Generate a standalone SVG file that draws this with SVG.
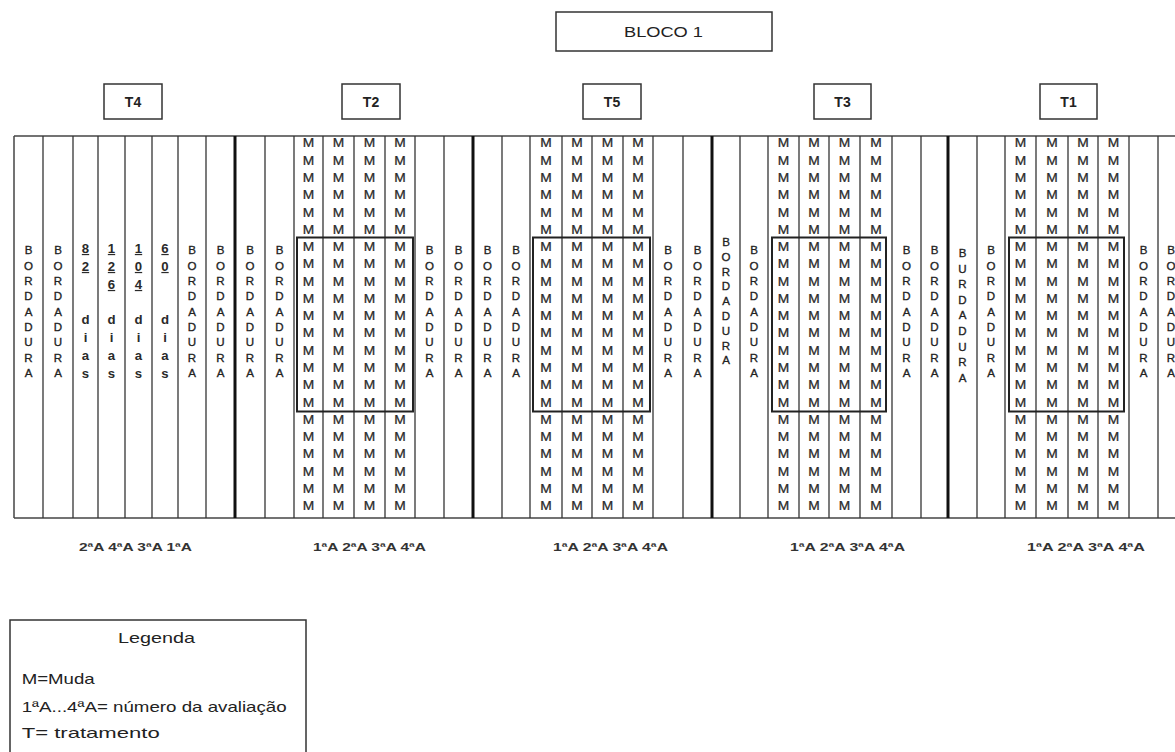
<svg xmlns="http://www.w3.org/2000/svg" width="1175" height="752" viewBox="0 0 1175 752">
<style>
.ln{stroke:#333;stroke-width:1.3}
.tk{stroke:#111;stroke-width:3}
.fr{stroke:#444;stroke-width:1.5}
.bx{fill:none;stroke:#333;stroke-width:1.5}
.ib{fill:none;stroke:#222;stroke-width:2}
.m{font-family:"Liberation Sans",Arial,sans-serif;font-size:12px;fill:#2a2a2a;stroke:#2a2a2a;stroke-width:0.25;text-anchor:middle}
.b{font-family:"Liberation Sans",Arial,sans-serif;font-size:10.5px;fill:#222;stroke:#222;stroke-width:0.3;text-anchor:middle}
.dg{font-family:"Liberation Sans",Arial,sans-serif;font-size:12px;font-weight:bold;fill:#2a2a2a;text-anchor:middle;text-decoration:underline}
.dl{font-family:"Liberation Sans",Arial,sans-serif;font-size:12px;font-weight:bold;fill:#2a2a2a;text-anchor:middle}
.ev{font-family:"Liberation Sans",Arial,sans-serif;font-size:10.5px;font-weight:bold;fill:#333}
.tt{font-family:"Liberation Sans",Arial,sans-serif;font-size:14px;font-weight:bold;fill:#222;text-anchor:middle}
.bl{font-family:"Liberation Sans",Arial,sans-serif;font-size:15px;fill:#222}
.lg{font-family:"Liberation Sans",Arial,sans-serif;font-size:15px;fill:#222}
</style>
<defs>
<g id="mc" transform="scale(1.15,1)">
<text class="m" x="0" y="147.5">M</text><text class="m" x="0" y="164.8">M</text><text class="m" x="0" y="182">M</text><text class="m" x="0" y="199.3">M</text><text class="m" x="0" y="216.6">M</text><text class="m" x="0" y="233.9">M</text><text class="m" x="0" y="251.1">M</text><text class="m" x="0" y="268.4">M</text><text class="m" x="0" y="285.7">M</text><text class="m" x="0" y="302.9">M</text><text class="m" x="0" y="320.2">M</text><text class="m" x="0" y="337.5">M</text><text class="m" x="0" y="354.7">M</text><text class="m" x="0" y="372">M</text><text class="m" x="0" y="389.3">M</text><text class="m" x="0" y="406.6">M</text><text class="m" x="0" y="423.8">M</text><text class="m" x="0" y="441.1">M</text><text class="m" x="0" y="458.4">M</text><text class="m" x="0" y="475.6">M</text><text class="m" x="0" y="492.9">M</text><text class="m" x="0" y="510.2">M</text>
</g>
<g id="bd" transform="scale(1.1,1)">
<text class="b" x="0" y="254.5">B</text><text class="b" x="0" y="269.8">O</text><text class="b" x="0" y="285.1">R</text><text class="b" x="0" y="300.4">D</text><text class="b" x="0" y="315.7">A</text><text class="b" x="0" y="331">D</text><text class="b" x="0" y="346.3">U</text><text class="b" x="0" y="361.6">R</text><text class="b" x="0" y="376.9">A</text>
</g>
</defs>
<rect width="1175" height="752" fill="#fff"/>

<g id="bloco">
<rect class="bx" x="556" y="12" width="216" height="39"/>
<text class="bl" x="624" y="36.5" textLength="79" lengthAdjust="spacingAndGlyphs">BLOCO 1</text>
</g>

<g id="connectors">
<line class="fr" x1="14" y1="136" x2="1175" y2="136"/>
<line class="fr" x1="14" y1="518" x2="1175" y2="518"/>
<line class="fr" x1="14" y1="136" x2="14" y2="518"/>
<g class="ln">
<line x1="43" y1="136" x2="43" y2="518"/><line x1="73" y1="136" x2="73" y2="518"/><line x1="98" y1="136" x2="98" y2="518"/><line x1="125" y1="136" x2="125" y2="518"/><line x1="152" y1="136" x2="152" y2="518"/><line x1="178" y1="136" x2="178" y2="518"/><line x1="206" y1="136" x2="206" y2="518"/>
<line x1="265" y1="136" x2="265" y2="518"/><line x1="294" y1="136" x2="294" y2="518"/><line x1="323" y1="136" x2="323" y2="518"/><line x1="354" y1="136" x2="354" y2="518"/><line x1="385" y1="136" x2="385" y2="518"/><line x1="415" y1="136" x2="415" y2="518"/><line x1="444" y1="136" x2="444" y2="518"/>
<line x1="502" y1="136" x2="502" y2="518"/><line x1="530" y1="136" x2="530" y2="518"/><line x1="562" y1="136" x2="562" y2="518"/><line x1="592" y1="136" x2="592" y2="518"/><line x1="623" y1="136" x2="623" y2="518"/><line x1="653" y1="136" x2="653" y2="518"/><line x1="683" y1="136" x2="683" y2="518"/>
<line x1="740" y1="136" x2="740" y2="518"/><line x1="768" y1="136" x2="768" y2="518"/><line x1="799" y1="136" x2="799" y2="518"/><line x1="829" y1="136" x2="829" y2="518"/><line x1="860" y1="136" x2="860" y2="518"/><line x1="892" y1="136" x2="892" y2="518"/><line x1="921" y1="136" x2="921" y2="518"/>
<line x1="977" y1="136" x2="977" y2="518"/><line x1="1005" y1="136" x2="1005" y2="518"/><line x1="1036" y1="136" x2="1036" y2="518"/><line x1="1068" y1="136" x2="1068" y2="518"/><line x1="1098" y1="136" x2="1098" y2="518"/><line x1="1129" y1="136" x2="1129" y2="518"/><line x1="1158" y1="136" x2="1158" y2="518"/>
</g>
<g class="tk">
<line x1="235" y1="136" x2="235" y2="518"/><line x1="473" y1="136" x2="473" y2="518"/><line x1="712" y1="136" x2="712" y2="518"/><line x1="948" y1="136" x2="948" y2="518"/>
</g>
</g>

<g id="T4">
<rect class="bx" x="104" y="84" width="58" height="35"/>
<text class="tt" x="133" y="106.5">T4</text>
<use href="#bd" x="28.5"/><use href="#bd" x="58"/>
<g transform="translate(85.5,0) scale(1.1,1)"><text class="dg" x="0" y="253">8</text><text class="dg" x="0" y="271">2</text><text class="dl" x="0" y="324">d</text><text class="dl" x="0" y="342">i</text><text class="dl" x="0" y="360">a</text><text class="dl" x="0" y="378">s</text></g>
<g transform="translate(111.5,0) scale(1.1,1)"><text class="dg" x="0" y="253">1</text><text class="dg" x="0" y="271">2</text><text class="dg" x="0" y="289">6</text><text class="dl" x="0" y="324">d</text><text class="dl" x="0" y="342">i</text><text class="dl" x="0" y="360">a</text><text class="dl" x="0" y="378">s</text></g>
<g transform="translate(138.5,0) scale(1.1,1)"><text class="dg" x="0" y="253">1</text><text class="dg" x="0" y="271">0</text><text class="dg" x="0" y="289">4</text><text class="dl" x="0" y="324">d</text><text class="dl" x="0" y="342">i</text><text class="dl" x="0" y="360">a</text><text class="dl" x="0" y="378">s</text></g>
<g transform="translate(165,0) scale(1.1,1)"><text class="dg" x="0" y="253">6</text><text class="dg" x="0" y="271">0</text><text class="dl" x="0" y="324">d</text><text class="dl" x="0" y="342">i</text><text class="dl" x="0" y="360">a</text><text class="dl" x="0" y="378">s</text></g>
<use href="#bd" x="192"/><use href="#bd" x="220.5"/>
<text class="ev" x="79" y="550.5" textLength="113" lengthAdjust="spacingAndGlyphs">2ªA 4ªA 3ªA 1ªA</text>
</g>

<g id="T2">
<rect class="bx" x="342" y="84" width="58" height="35"/>
<text class="tt" x="371" y="106.5">T2</text>
<use href="#bd" x="250"/><use href="#bd" x="279.5"/>
<use href="#mc" x="308.5"/><use href="#mc" x="338.5"/><use href="#mc" x="369.5"/><use href="#mc" x="400"/>
<rect class="ib" x="297" y="237.5" width="116" height="174"/>
<use href="#bd" x="429.5"/><use href="#bd" x="458.5"/>
<text class="ev" x="313" y="550.5" textLength="113" lengthAdjust="spacingAndGlyphs">1ªA 2ªA 3ªA 4ªA</text>
</g>

<g id="T5">
<rect class="bx" x="583" y="84" width="58" height="35"/>
<text class="tt" x="612" y="106.5">T5</text>
<use href="#bd" x="487.5"/><use href="#bd" x="516"/>
<use href="#mc" x="546"/><use href="#mc" x="577"/><use href="#mc" x="607.5"/><use href="#mc" x="638"/>
<rect class="ib" x="533" y="237.5" width="117" height="174"/>
<use href="#bd" x="668"/><use href="#bd" x="697.5"/>
<text class="ev" x="553" y="550.5" textLength="115" lengthAdjust="spacingAndGlyphs">1ªA 2ªA 3ªA 4ªA</text>
</g>

<g id="T3">
<rect class="bx" x="814" y="84" width="57" height="35"/>
<text class="tt" x="842.5" y="106.5">T3</text>
<g transform="translate(726,0) scale(1.1,1)"><text class="b" x="0" y="246">B</text><text class="b" x="0" y="260.8">O</text><text class="b" x="0" y="275.6">R</text><text class="b" x="0" y="290.4">D</text><text class="b" x="0" y="305.2">A</text><text class="b" x="0" y="320">D</text><text class="b" x="0" y="334.8">U</text><text class="b" x="0" y="349.6">R</text><text class="b" x="0" y="364.4">A</text></g>
<use href="#bd" x="754"/>
<use href="#mc" x="783.5"/><use href="#mc" x="814"/><use href="#mc" x="844.5"/><use href="#mc" x="876"/>
<rect class="ib" x="772" y="237.5" width="114" height="174"/>
<use href="#bd" x="906.5"/><use href="#bd" x="934.5"/>
<text class="ev" x="790" y="550.5" textLength="115" lengthAdjust="spacingAndGlyphs">1ªA 2ªA 3ªA 4ªA</text>
</g>

<g id="T1">
<rect class="bx" x="1040" y="84" width="57" height="35"/>
<text class="tt" x="1068.5" y="106.5">T1</text>
<g transform="translate(962.5,0) scale(1.1,1)"><text class="b" x="0" y="257">B</text><text class="b" x="0" y="272.6">U</text><text class="b" x="0" y="288.2">R</text><text class="b" x="0" y="303.8">D</text><text class="b" x="0" y="319.4">A</text><text class="b" x="0" y="335">D</text><text class="b" x="0" y="350.6">U</text><text class="b" x="0" y="366.2">R</text><text class="b" x="0" y="381.8">A</text></g>
<use href="#bd" x="991"/>
<use href="#mc" x="1020.5"/><use href="#mc" x="1052"/><use href="#mc" x="1083"/><use href="#mc" x="1113.5"/>
<rect class="ib" x="1009" y="237.5" width="115" height="174"/>
<use href="#bd" x="1143.5"/><use href="#bd" x="1171"/>
<text class="ev" x="1027" y="550.5" textLength="118" lengthAdjust="spacingAndGlyphs">1ªA 2ªA 3ªA 4ªA</text>
</g>

<g id="legenda">
<rect class="bx" x="10" y="620" width="296" height="150"/>
<text class="lg" x="118" y="643.3" textLength="77" lengthAdjust="spacingAndGlyphs">Legenda</text>
<text class="lg" x="21.7" y="684" textLength="73" lengthAdjust="spacingAndGlyphs">M=Muda</text>
<text class="lg" x="21.7" y="711.7" textLength="265" lengthAdjust="spacingAndGlyphs">1ªA...4ªA= número da avaliação</text>
<text class="lg" x="21.7" y="738.3" textLength="138" lengthAdjust="spacingAndGlyphs">T= tratamento</text>
</g>
</svg>
